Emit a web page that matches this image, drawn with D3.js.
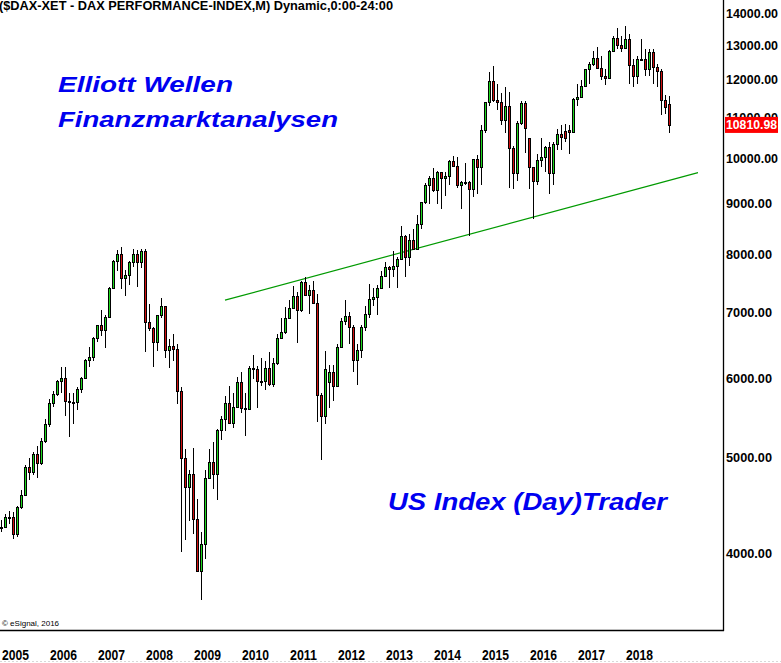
<!DOCTYPE html>
<html>
<head>
<meta charset="utf-8">
<script src="https://cdn.jsdelivr.net/npm/d3@7/dist/d3.min.js"></script>
<style>
body { margin: 0; background: #fff; }
svg { display: block; font-family: "Liberation Sans", Arial, sans-serif; }
</style>
</head>
<body>
<script>
var width = 781
var height = 663

// monthly bars, Jan 2005 .. Dec 2018
var years = ['2005', '2006', '2007', '2008', '2009', '2010', '2011', '2012', '2013', '2014', '2015', '2016', '2017', '2018']
var yTicks = [4000, 5000, 6000, 7000, 8000, 9000, 10000, 11000, 12000, 13000, 14000]

var opens = [
    4256, 4254, 4350, 4349, 4185, 4460, 4586, 4886, 4829, 5044, 4929, 5193,
    5408, 5674, 5796, 5970, 6009, 5693, 5683, 5682, 5859, 6004, 6268, 6309,
    6597, 6789, 6716, 6917, 7409, 7884, 8007, 7584, 7638, 7862, 8019, 7871,
    8067, 6851, 6748, 6535, 6949, 7096, 6418, 6479, 6422, 5831, 4988, 4669,
    4810, 4338, 3843, 4085, 4770, 4941, 4809, 5332, 5465, 5675, 5415, 5625,
    5957, 5608, 5598, 6154, 6136, 5964, 5966, 6148, 5925, 6229, 6601, 6688,
    6914, 7077, 7272, 7041, 7514, 7294, 7376, 7159, 5784, 5502, 5960, 6089,
    5898, 6458, 6856, 6947, 6761, 6264, 6416, 6772, 6971, 7216, 7260, 7405,
    7612, 7776, 7742, 7795, 7914, 8349, 7959, 8276, 8103, 8594, 9033, 9406,
    9552, 9306, 9692, 9556, 9603, 9943, 9833, 9407, 9470, 9474, 9327, 9980,
    9806, 10694, 11402, 11966, 11454, 11414, 10945, 11309, 10259, 9660, 10850, 11382,
    10486, 9798, 9495, 9966, 10039, 10263, 9680, 10337, 10593, 10660, 10690, 10640,
    11481, 11535, 11834, 12313, 12438, 12615, 12325, 12118, 12056, 12829, 13230, 13024,
    12918, 13189, 12436, 12097, 12612, 12605, 12306, 12806, 12364, 12247, 11447, 11360
]
var highs = [
    4324, 4387, 4410, 4400, 4466, 4632, 4906, 4988, 5063, 5138, 5226, 5469,
    5718, 5831, 5983, 6162, 6163, 5800, 5800, 5885, 6026, 6280, 6456, 6612,
    6800, 7040, 6960, 7424, 7900, 8090, 8152, 7720, 7880, 8100, 8080, 8100,
    8100, 7143, 6770, 6960, 7230, 7100, 6580, 6650, 6500, 5880, 5100, 4860,
    5111, 4540, 4200, 4850, 5100, 5180, 5344, 5500, 5760, 5900, 5810, 6026,
    6094, 5800, 6185, 6340, 6180, 6300, 6250, 6380, 6300, 6650, 6900, 7080,
    7200, 7440, 7340, 7527, 7600, 7450, 7520, 7300, 5800, 6400, 6200, 6200,
    6500, 6900, 7194, 7000, 6800, 6500, 6800, 7100, 7478, 7400, 7450, 7700,
    7871, 7800, 8074, 7950, 8558, 8380, 8400, 8500, 8770, 9050, 9450, 9600,
    9794, 9723, 9700, 9700, 9965, 10050, 10033, 9500, 9891, 9500, 10000, 10093,
    10810, 11400, 12219, 12391, 11900, 11635, 11800, 11670, 10300, 10900, 11430, 11430,
    10486, 9800, 10100, 10486, 10300, 10400, 10400, 10700, 10800, 10826, 10800, 11500,
    11900, 12000, 12300, 12500, 12840, 12951, 12700, 12300, 12850, 13300, 13526, 13300,
    13596, 13350, 12600, 12700, 13204, 12900, 12900, 12890, 12450, 12300, 11600, 11550
]
var lows = [
    4201, 4246, 4284, 4135, 4157, 4431, 4566, 4742, 4800, 4761, 4910, 5165,
    5370, 5615, 5760, 5809, 5500, 5243, 5398, 5580, 5800, 5990, 6160, 6250,
    6530, 6620, 6439, 6917, 7400, 7700, 7390, 7274, 7450, 7770, 7430, 7750,
    6384, 6700, 6167, 6400, 6900, 6300, 6150, 6250, 5660, 4014, 4127, 4311,
    4184, 3830, 3588, 3950, 4750, 4650, 4524, 5200, 5320, 5400, 5350, 5620,
    5540, 5250, 5600, 6000, 5600, 5900, 5850, 5900, 5880, 6200, 6600, 6660,
    6900, 7100, 6514, 7000, 7300, 6980, 7140, 5430, 4965, 5400, 5600, 5700,
    5900, 6500, 6800, 6500, 6100, 5914, 6300, 6700, 6900, 7100, 6950, 7400,
    7650, 7400, 7600, 7400, 7900, 7600, 7800, 8100, 8100, 8490, 9000, 9000,
    9250, 9000, 8900, 9170, 9400, 9800, 9350, 8900, 9400, 8355, 9150, 9220,
    9400, 10600, 11300, 11400, 11200, 10800, 10600, 9338, 9325, 9500, 10800, 10123,
    9314, 8699, 9400, 9800, 9700, 9200, 9400, 10200, 10200, 10400, 10100, 10600,
    11300, 11500, 11800, 11900, 12400, 12300, 12000, 11868, 12100, 12800, 12900, 12800,
    12900, 11900, 11800, 11900, 12600, 12100, 12100, 11900, 11800, 11050, 11100, 10600
]
var closes = [
    4254, 4350, 4349, 4185, 4460, 4586, 4886, 4829, 5044, 4929, 5193, 5408,
    5674, 5796, 5970, 6009, 5693, 5683, 5682, 5859, 6004, 6268, 6309, 6597,
    6789, 6716, 6917, 7409, 7884, 8007, 7584, 7638, 7862, 8019, 7871, 8067,
    6851, 6748, 6535, 6949, 7096, 6418, 6479, 6422, 5831, 4988, 4669, 4810,
    4338, 3843, 4085, 4770, 4941, 4809, 5332, 5465, 5675, 5415, 5625, 5957,
    5608, 5598, 6154, 6136, 5964, 5966, 6148, 5925, 6229, 6601, 6688, 6914,
    7077, 7272, 7041, 7514, 7294, 7376, 7159, 5784, 5502, 6141, 6089, 5898,
    6458, 6856, 6947, 6761, 6264, 6416, 6772, 6971, 7216, 7260, 7405, 7612,
    7776, 7742, 7795, 7914, 8349, 7959, 8276, 8103, 8594, 9033, 9406, 9552,
    9306, 9692, 9556, 9603, 9943, 9833, 9407, 9470, 9474, 9327, 9980, 9806,
    10694, 11402, 11966, 11454, 11414, 10945, 11309, 10259, 9660, 10850, 11382, 10743,
    9798, 9495, 9966, 10039, 10263, 9680, 10337, 10593, 10511, 10500, 10640, 11481,
    11535, 11834, 12313, 12438, 12615, 12325, 12118, 12056, 12829, 13230, 13024, 12918,
    13189, 12436, 12097, 12612, 12605, 12306, 12806, 12364, 12247, 11447, 11257, 10810.98
]
var lastPrice = 10810.98

// support line: month index -> price
var trendIdx = [56, 174.25]
var trendVal = [7200, 9680]

var upColor = '#1ed81e'
var downColor = '#d01010'
var textBlue = '#0000f0'

var bars = closes.map(function (c, i) {
    return { i: i, open: opens[i], high: highs[i], low: lows[i], close: c }
})

var x = d3.scaleLinear().domain([0, 167]).range([1, 669])
var y = d3.scaleLog().domain([4000, 14000]).range([553.5, 13.5])

var svg = d3.select('body').append('svg')
    .attr('width', width)
    .attr('height', height)
    .attr('viewBox', [0, 0, width, height])

svg.append('rect').attr('width', width).attr('height', height).attr('fill', '#fff')

// title
svg.append('text')
    .attr('x', -1)
    .attr('y', 10)
    .attr('font-size', 12)
    .attr('font-weight', 'bold')
    .attr('textLength', 394)
    .attr('lengthAdjust', 'spacingAndGlyphs')
    .text('($DAX-XET - DAX PERFORMANCE-INDEX,M) Dynamic,0:00-24:00')

// trend line
svg.append('line')
    .attr('x1', x(trendIdx[0]))
    .attr('y1', y(trendVal[0]))
    .attr('x2', x(trendIdx[1]))
    .attr('y2', y(trendVal[1]))
    .attr('stroke', '#009a00')
    .attr('stroke-width', 1.2)

// candles
var candle = svg.append('g')
    .attr('shape-rendering', 'crispEdges')
    .selectAll('g')
    .data(bars)
    .join('g')

candle.append('line')
    .attr('x1', function (d) { return x(d.i) + 0.5 })
    .attr('x2', function (d) { return x(d.i) + 0.5 })
    .attr('y1', function (d) { return Math.round(y(d.high)) })
    .attr('y2', function (d) { return Math.round(y(d.low)) })
    .attr('stroke', '#000')

candle.append('rect')
    .attr('x', function (d) { return x(d.i) - 0.5 })
    .attr('y', function (d) { return Math.round(y(Math.max(d.open, d.close))) + 0.5 })
    .attr('width', 2)
    .attr('height', function (d) {
        var top = Math.round(y(Math.max(d.open, d.close)))
        var bot = Math.round(y(Math.min(d.open, d.close)))
        return Math.max(1, bot - top)
    })
    .attr('fill', function (d) { return d.close >= d.open ? upColor : downColor })
    .attr('stroke', '#000')

// frame
svg.append('line').attr('x1', 723.5).attr('x2', 723.5).attr('y1', 0).attr('y2', 631)
    .attr('stroke', '#000').attr('stroke-width', 1.3)
svg.append('line').attr('x1', 0).attr('x2', 724).attr('y1', 630.5).attr('y2', 630.5)
    .attr('stroke', '#000').attr('stroke-width', 1.3)

// price labels
svg.append('g')
    .selectAll('text')
    .data(yTicks)
    .join('text')
    .attr('x', 726)
    .attr('y', function (d) { return y(d) })
    .attr('dy', '0.35em')
    .attr('font-size', 12.5)
    .attr('font-weight', 'bold')
    .attr('textLength', function (d) { return d >= 10000 ? 52 : 46 })
    .attr('lengthAdjust', 'spacingAndGlyphs')
    .text(function (d) { return d3.format('.2f')(d) })

// last price tag
var tagY = y(lastPrice)
svg.append('rect')
    .attr('x', 725)
    .attr('y', tagY - 8)
    .attr('width', 53)
    .attr('height', 16)
    .attr('fill', '#ff0000')
svg.append('text')
    .attr('x', 726)
    .attr('y', tagY)
    .attr('dy', '0.35em')
    .attr('font-size', 12.5)
    .attr('font-weight', 'bold')
    .attr('fill', '#fff')
    .attr('textLength', 51)
    .attr('lengthAdjust', 'spacingAndGlyphs')
    .text(d3.format('.2f')(lastPrice))

// year labels
svg.append('g')
    .selectAll('text')
    .data(years)
    .join('text')
    .attr('x', function (d, k) { return x(k * 12) + 1 })
    .attr('y', 660)
    .attr('font-size', 14)
    .attr('font-weight', 'bold')
    .attr('textLength', 27)
    .attr('lengthAdjust', 'spacingAndGlyphs')
    .text(function (d) { return d })

svg.append('line').attr('x1', 0).attr('x2', width).attr('y1', 661.5).attr('y2', 661.5)
    .attr('stroke', '#d8d8d8').attr('stroke-dasharray', '2,2')

svg.append('text')
    .attr('x', 2)
    .attr('y', 626)
    .attr('font-size', 8)
    .text('\u00a9 eSignal, 2016')

// watermark texts
function blueText(str, tx, ty, len, size) {
    svg.append('text')
        .attr('x', tx)
        .attr('y', ty)
        .attr('font-size', size)
        .attr('font-weight', 'bold')
        .attr('font-style', 'italic')
        .attr('fill', textBlue)
        .attr('textLength', len)
        .attr('lengthAdjust', 'spacingAndGlyphs')
        .text(str)
}
blueText('Elliott Wellen', 58, 92, 175, 22)
blueText('Finanzmarktanalysen', 58, 127, 280, 22)
blueText('US Index (Day)Trader', 388, 510, 279, 24)
</script>
</body>
</html>
